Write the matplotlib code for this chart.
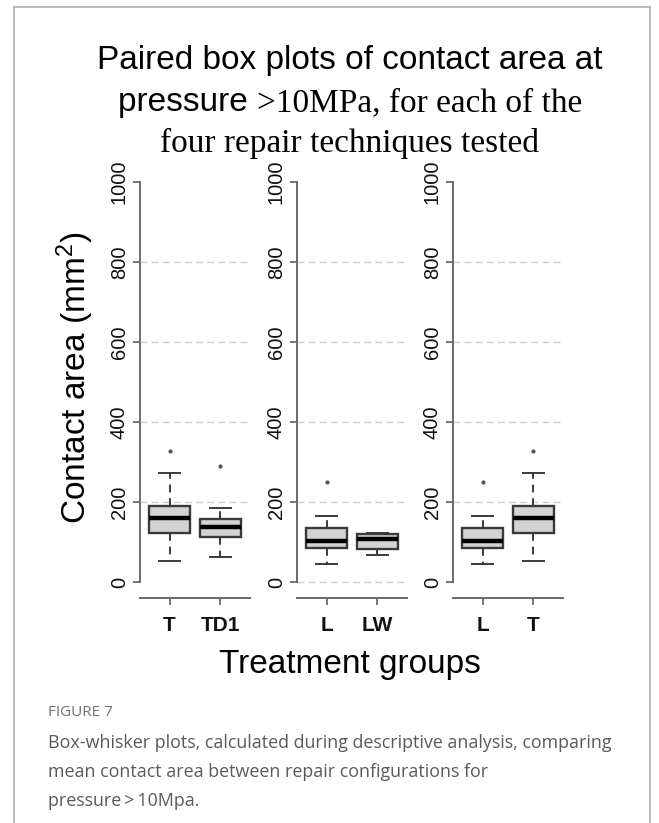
import matplotlib
matplotlib.use("Agg")
import matplotlib.pyplot as plt
from matplotlib.lines import Line2D

plt.rcParams['font.family'] = ['Liberation Sans', 'DejaVu Sans']
plt.rcParams['mathtext.fontset'] = 'custom'
plt.rcParams['mathtext.rm'] = 'Liberation Sans'
plt.rcParams['mathtext.default'] = 'regular'

# values (mm^2)
panel_labels = [["T", "TD1"], ["L", "LW"], ["L", "T"]]
whisker_low = [[52, 63], [45, 67], [45, 52]]
q1_vals = [[122, 113], [84, 82], [84, 122]]
medians = [[159, 137], [103, 108], [103, 159]]
q3_vals = [[190, 157], [136, 120], [136, 190]]
whisker_high = [[273, 186], [166, 123], [166, 273]]
outliers = [[[327], [291]], [[249], []], [[249], [327]]]
y_ticks = [0, 200, 400, 600, 800, 1000]
grid_levels = [[200, 400, 600, 800], [0, 200, 400, 600, 800], [200, 400, 600, 800]]

W, H = 659, 823
fig = plt.figure(figsize=(W / 100, H / 100), dpi=100)


def fx(px):
    return px / W


def fy(py):
    return 1 - py / H


# outer frame of the figure panel
frame_col = "#b0b0b0"
fig.add_artist(Line2D([fx(14), fx(14)], [0, fy(7)], color=frame_col, lw=1.2))
fig.add_artist(Line2D([fx(14), fx(650)], [fy(7), fy(7)], color=frame_col, lw=1.2))
fig.add_artist(Line2D([fx(650), fx(650)], [0, fy(7)], color=frame_col, lw=1.2))

axis_col = "#6a6a6a"
lefts = [140, 297, 453]
for k, left in enumerate(lefts):
    ax = fig.add_axes([fx(left), fy(598), fx(110), fy(166) - fy(598)])
    stats = []
    for i in range(2):
        stats.append(dict(med=medians[k][i], q1=q1_vals[k][i], q3=q3_vals[k][i],
                          whislo=whisker_low[k][i], whishi=whisker_high[k][i],
                          fliers=outliers[k][i], label=panel_labels[k][i]))
    for g in grid_levels[k]:
        ax.axhline(g, color="#cfcfcf", lw=1, ls=(0, (5, 3)), zorder=0)
    ax.bxp(stats, positions=[1, 2], widths=0.8, patch_artist=True,
           boxprops=dict(facecolor="#d3d3d3", edgecolor="#3a3a3a", lw=1.7),
           medianprops=dict(color="black", lw=3.2),
           whiskerprops=dict(color="#3a3a3a", lw=1.4, ls=(0, (4, 3))),
           capprops=dict(color="#3a3a3a", lw=1.4),
           capwidths=0.4,
           flierprops=dict(marker="o", markersize=2, markerfacecolor="#555555",
                           markeredgecolor="#555555"))
    ax.set_xlim(0.42, 2.58)
    ax.set_ylim(-40, 1040)
    for s in ["top", "right"]:
        ax.spines[s].set_visible(False)
    ax.spines["left"].set_bounds(0, 1000)
    ax.spines["left"].set_color(axis_col)
    ax.spines["bottom"].set_color(axis_col)
    ax.spines["left"].set_linewidth(1.4)
    ax.spines["bottom"].set_linewidth(1.4)
    ax.set_yticks(y_ticks)
    ax.set_yticklabels([str(t) for t in y_ticks], rotation=90, va="center",
                       fontsize=14.5, color="#111111")
    ax.set_xticks([1, 2])
    ax.set_xticklabels(panel_labels[k], fontsize=15, fontweight="bold", color="#111111")
    ax.tick_params(axis="both", color=axis_col, length=5, width=1.3, pad=3)
    ax.tick_params(axis="x", pad=8)
    ax.patch.set_alpha(0)

# title: mixed sans / serif like the original
fig.text(fx(350), fy(69), "Paired box plots of contact area at", ha="center",
         va="baseline", fontsize=24, family="Liberation Sans")
fig.canvas.draw()
r = fig.canvas.get_renderer()
t1 = fig.text(0, fy(111), "pressure ", ha="left", va="baseline", fontsize=24,
              family="Liberation Sans")
t2 = fig.text(0, fy(111), ">10MPa, for each of the", ha="left", va="baseline",
              fontsize=24, family="Liberation Serif")
w1 = t1.get_window_extent(r).width
w2 = t2.get_window_extent(r).width
start = 350 - (w1 + w2) / 2
t1.set_x(fx(start))
t2.set_x(fx(start + w1))
fig.text(fx(350), fy(152), "four repair techniques tested", ha="center",
         va="baseline", fontsize=24, family="Liberation Serif")

fig.text(fx(75), fy(378), "Contact area (mm$^2$)", rotation=90, ha="center",
         va="center", fontsize=24)
fig.text(fx(350), fy(665), "Treatment groups", ha="center", va="center", fontsize=24)

# caption
fig.text(fx(48), fy(712), "FIGURE 7", ha="left", va="center", fontsize=11,
         color="#707070", family="Open Sans")
caption = ["Box-whisker plots, calculated during descriptive analysis, comparing",
           "mean contact area between repair configurations for",
           "pressure\u2009>\u200910Mpa."]
for i, line in enumerate(caption):
    fig.text(fx(48), fy(743 + 29 * i), line, ha="left", va="center", fontsize=12.9,
             color="#5a5a5a", family=["Open Sans", "DejaVu Sans"])

fig.savefig("out.png", dpi=100)
